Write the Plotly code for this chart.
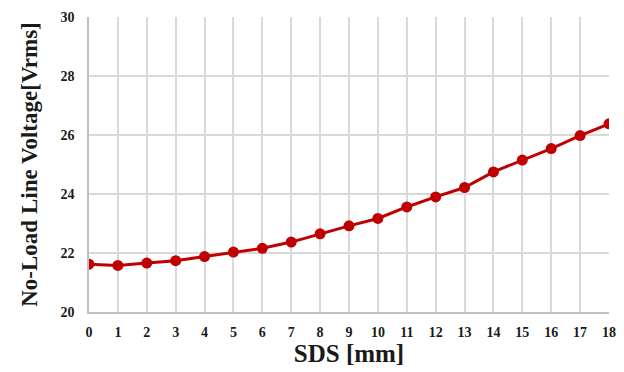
import plotly.graph_objects as go

sds_mm = list(range(0, 19))
voltage_vrms = [21.62, 21.58, 21.66, 21.74, 21.88, 22.03, 22.16, 22.37, 22.65, 22.92,
                23.17, 23.56, 23.9, 24.22, 24.75, 25.15, 25.54, 25.98, 26.38]

font_serif = "Liberation Serif, Times New Roman, serif"

fig = go.Figure()
fig.add_trace(go.Scatter(
    x=sds_mm, y=voltage_vrms, mode="lines+markers",
    line=dict(color="#C00000", width=3),
    marker=dict(color="#C00000", size=11),
))

fig.update_layout(
    width=624, height=372,
    margin=dict(l=89, r=8, t=17, b=60),
    plot_bgcolor="white", paper_bgcolor="white",
    showlegend=False,
    font=dict(family=font_serif, color="#1a1a1a"),
)
fig.update_xaxes(
    range=[0, 18], tickmode="array", tickvals=sds_mm,
    showgrid=True, gridcolor="#d9d9d9", gridwidth=1.5,
    showline=True, linecolor="#bfbfbf", linewidth=1.5,
    zeroline=False,
    tickfont=dict(family=font_serif, size=14, color="#1a1a1a", weight="bold"),
    ticklabelstandoff=6,
    title=dict(text="<b>SDS [mm]</b>", font=dict(family=font_serif, size=25, color="#1a1a1a"), standoff=4),
)
fig.update_yaxes(
    range=[20, 30], tickmode="array", tickvals=[20, 22, 24, 26, 28, 30],
    showgrid=True, gridcolor="#d9d9d9", gridwidth=1.5,
    showline=True, linecolor="#bfbfbf", linewidth=1.5,
    zeroline=False,
    tickfont=dict(family=font_serif, size=14, color="#1a1a1a", weight="bold"),
    ticklabelstandoff=10,
    title=dict(text="<b>No-Load Line Voltage[Vrms]</b>", font=dict(family=font_serif, size=23, color="#1a1a1a"), standoff=16),
)

fig.write_html("out.html")
